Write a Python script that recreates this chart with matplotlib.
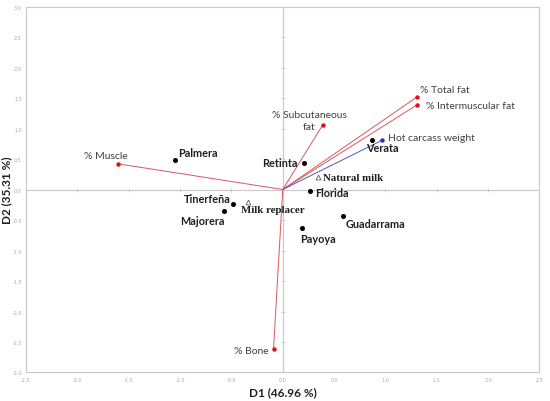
import matplotlib
matplotlib.use("Agg")
import matplotlib.pyplot as plt
import numpy as np

# --- data ---
breeds = ["Palmera", "Retinta", "Verata", "Florida", "Guadarrama", "Payoya", "Tinerfeña", "Majorera"]
breed_x = [-1.05, 0.21, 0.87, 0.27, 0.59, 0.19, -0.48, -0.57]
breed_y = [0.49, 0.43, 0.81, -0.02, -0.43, -0.63, -0.23, -0.36]

supp = ["Natural milk", "Milk replacer"]
supp_x = [0.34, -0.34]
supp_y = [0.20, -0.21]

variables = ["% Muscle", "% Subcutaneous\nfat", "% Total fat", "% Intermuscular fat", "Hot carcass weight", "% Bone"]
var_x = [-1.60, 0.39, 1.31, 1.31, 0.97, -0.09]
var_y = [0.42, 1.06, 1.52, 1.39, 0.81, -2.62]
var_color = ["red", "red", "red", "red", "blue", "red"]

xticks = [-2.5, -2.0, -1.5, -1.0, -0.5, 0.0, 0.5, 1.0, 1.5, 2.0, 2.5]
yticks = [-3.0, -2.5, -2.0, -1.5, -1.0, -0.5, 0.0, 0.5, 1.0, 1.5, 2.0, 2.5, 3.0]
xlabel = "D1 (46.96 %)"
ylabel = "D2 (35.31 %)"

# --- styling ---
breed_off = {"Palmera": (2, 5, "left"), "Retinta": (-4.5, 0.5, "right"), "Verata": (-4, -5.3, "left"),
             "Florida": (3.1, -1.2, "left"), "Guadarrama": (1.4, -5.8, "left"), "Payoya": (-1.4, -7.7, "left"),
             "Tinerfeña": (-1.7, 3.9, "right"), "Majorera": (0, -6.5, "right")}
supp_off = {"Natural milk": (3.6, 0, "left"), "Milk replacer": (-5, -5.3, "left")}
var_off = {"% Muscle": (-9.4, 5.8, "center"), "% Subcutaneous\nfat": (-9.8, 3, "center"),
           "% Total fat": (1.7, 5.3, "left"), "% Intermuscular fat": (6.3, -0.9, "left"),
           "Hot carcass weight": (4.3, 1.7, "left"), "% Bone": (-3.6, -0.7, "right")}
line_cols = {"red": "#d9575f", "blue": "#4a5cc4"}
dot_cols = {"red": "#e0101a", "blue": "#2030d0"}
grey = "#c8c8c8"

fig = plt.figure(figsize=(5.5, 4.02), dpi=100)
ax = fig.add_axes([0.0473, 0.0709, 0.9336, 0.9104])
ax.set_xlim(-2.5, 2.5)
ax.set_ylim(-3.0, 3.0)

for s in ax.spines.values():
    s.set_color(grey)
    s.set_linewidth(0.8)

ax.axhline(0, color=grey, lw=0.8, zorder=1)
ax.axvline(0, color=grey, lw=0.8, zorder=1)
ax.plot(xticks, np.zeros(len(xticks)), ls="none", marker="|", ms=3, color=grey, mew=0.6, zorder=1)
ax.plot(np.zeros(len(yticks)), yticks, ls="none", marker="_", ms=3, color=grey, mew=0.6, zorder=1)

ax.set_xticks(xticks)
ax.set_yticks(yticks)
ax.set_xticklabels([f"{t:.1f}" for t in xticks])
ax.set_yticklabels([f"{t:.1f}" for t in yticks])
ax.tick_params(length=0, labelsize=3.5, labelcolor="#a8a8a8", pad=3)

ax.set_xlabel(xlabel, fontfamily="Lato", fontweight="bold", fontsize=8.5, color="#202020", labelpad=3)
ax.set_ylabel(ylabel, fontfamily="Lato", fontweight="bold", fontsize=8.5, color="#202020")
ax.yaxis.set_label_coords(-0.026, 0.5)

# variable vectors
for name, x, y, c in zip(variables, var_x, var_y, var_color):
    ax.plot([0, x], [0, y], color=line_cols[c], lw=0.7, zorder=2)
    ax.plot([x], [y], marker="o", ms=2.2, color=dot_cols[c], zorder=3)
    dx, dy, ha = var_off[name]
    ax.annotate(name, (x, y), xytext=(dx, dy), textcoords="offset points", ha=ha, va="center",
                fontsize=7.5, fontfamily="Lato", color="#404040", multialignment="center", linespacing=1.5)

# breeds
ax.plot(breed_x, breed_y, ls="none", marker="o", ms=2.6, color="black", zorder=4)
for name, x, y in zip(breeds, breed_x, breed_y):
    dx, dy, ha = breed_off[name]
    ax.annotate(name, (x, y), xytext=(dx, dy), textcoords="offset points", ha=ha, va="center",
                fontsize=7.8, fontfamily="Lato", fontweight="bold", color="#202020")

# supplementary
ax.plot(supp_x, supp_y, ls="none", marker="^", ms=3.5, mfc="white", mec="#404040", mew=0.5, zorder=4)
for name, x, y in zip(supp, supp_x, supp_y):
    dx, dy, ha = supp_off[name]
    ax.annotate(name, (x, y), xytext=(dx, dy), textcoords="offset points", ha=ha, va="center",
                fontsize=7.8, fontfamily="Liberation Serif", fontweight="bold", color="#202020")

fig.savefig("out.png", dpi=100)
